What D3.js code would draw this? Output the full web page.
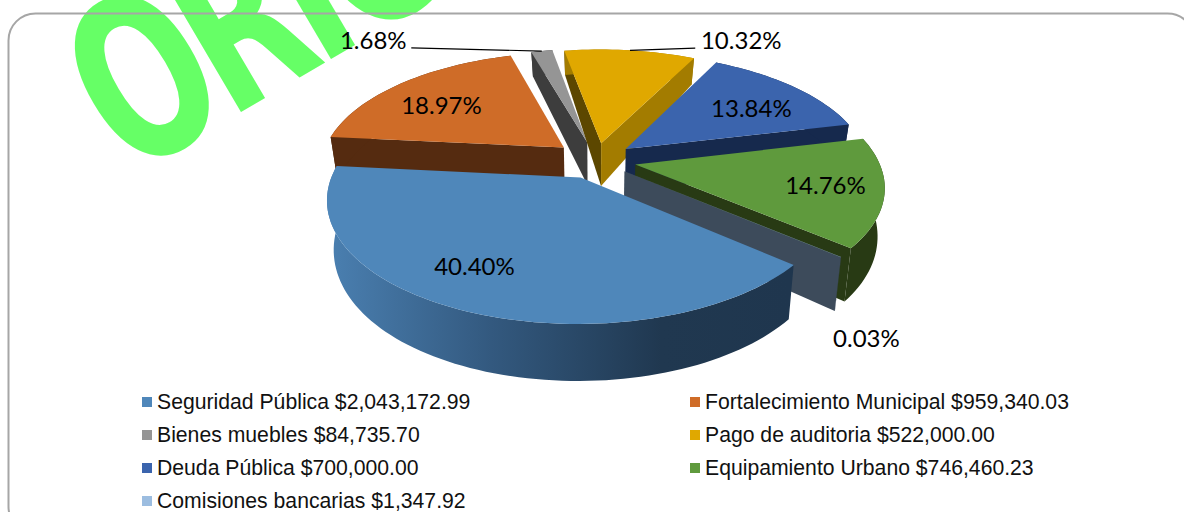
<!DOCTYPE html>
<html>
<head>
<meta charset="utf-8">
<script src="https://cdn.jsdelivr.net/npm/d3@7"></script>
<style>
  html, body { margin: 0; padding: 0; background: #fff; overflow: hidden; }
  svg { display: block; }
  .pct { font-family: Lato, "Open Sans", sans-serif; font-size: 24px; fill: #000; text-anchor: middle; }
  .leg { font-family: "Liberation Sans", Arial, sans-serif; font-size: 21.2px; fill: #111; }
  .mark { font-family: "DejaVu Sans", sans-serif; font-weight: bold; font-size: 225px; fill: #66ff66; letter-spacing: -15px; }
</style>
</head>
<body>
<div id="chart"></div>
<script>
// --- 1. DATA ---
const categories = ["Seguridad Pública", "Fortalecimiento Municipal", "Bienes muebles", "Pago de auditoria", "Deuda Pública", "Equipamiento Urbano", "Comisiones bancarias"];
const amounts = [2043172.99, 959340.03, 84735.70, 522000.00, 700000.00, 746460.23, 1347.92];
const topColors = ["#4f87ba", "#cf6c28", "#959595", "#e0a800", "#3b64ad", "#5f9a3d", "#9cbde0"];
const rimColors = ["#4f87ba", "#552b10", "#3d3d3d", "#a37c00", "#16294d", "#283a14", "#3d4b5b"];
const startFaceColors = [null, "#552b10", "#3d3d3d", "#5c4700", null, null, null];
const endFaceColors = [null, null, null, "#a37c00", "#16294d", "#283a14", "#3d4b5b"];
const paintOrder = [1, 2, 3, 4, 5, 6, 0];
const explodeBy = [0.16, 0.175, 0.16, 0.15, 0.158, 0.165, 0.15];

// label placement: radius factor on the slice bisector, angle shift in degrees
const labelRadius = [0.755, 0.685, 1.539, 1.311, 0.685, 0.77, 1.367];
const labelShift = [6.6, -3.9, -31.1, 24.1, 4.1, 0, 16];

// --- 2. GEOMETRY ---
const width = 1184, height = 512;
const cx = 596, cy = 160, rx = 243, ry = 115, persp = 0.17;
const firstAngle = 130 * Math.PI / 180;

const pie = d3.pie().sort(null).startAngle(firstAngle).endAngle(firstAngle + 2 * Math.PI);
const arcs = pie(amounts);
const total = d3.sum(amounts);
const color = d3.scaleOrdinal().domain(categories).range(topColors);
const pctFormat = d3.format(".2%");
const moneyFormat = d3.format("$,.2f");

// ground plane coords to screen, z=0 top face, z=1 bottom face
function project(u, v, z) {
    const s = 1 / (1 + persp * v);
    const drop = 45 - 14.5 * v - 3.5 * v * v;
    return [cx + rx * u * s * (1 - 0.025 * z), cy - ry * v * s + z * drop];
}
function slicePoint(d, angle, r, z) {
    const mid = (d.startAngle + d.endAngle) / 2;
    const u = explodeBy[d.index] * Math.sin(mid) + r * Math.sin(angle);
    const v = explodeBy[d.index] * Math.cos(mid) + r * Math.cos(angle);
    return project(u, v, z);
}
function rimPoints(d, z) {
    const n = Math.max(2, Math.ceil((d.endAngle - d.startAngle) / 0.03));
    return d3.range(n + 1).map(i => slicePoint(d, d.startAngle + (d.endAngle - d.startAngle) * i / n, 1, z));
}
const line = d3.line();

// --- 3. DRAWING ---
const svg = d3.select("#chart").append("svg").attr("width", width).attr("height", height);

const grad = svg.append("defs").append("linearGradient")
    .attr("id", "rimBlue").attr("gradientUnits", "userSpaceOnUse")
    .attr("x1", 330).attr("x2", 790).attr("y1", 0).attr("y2", 0);
grad.append("stop").attr("offset", "0").attr("stop-color", "#4a7fb0");
grad.append("stop").attr("offset", "0.35").attr("stop-color", "#33597f");
grad.append("stop").attr("offset", "0.72").attr("stop-color", "#203850");
grad.append("stop").attr("offset", "1").attr("stop-color", "#1f364e");

// watermark
svg.append("text").attr("class", "mark")
    .attr("transform", "translate(129,178) rotate(-30.5) scale(0.66,1)")
    .text("ORIGINAL");

// slices back to front
paintOrder.forEach(i => {
    const d = arcs[i];
    const g = svg.append("g").attr("class", "slice");

    if (startFaceColors[i]) {
        g.append("path").attr("fill", startFaceColors[i]).attr("d", line([
            slicePoint(d, d.startAngle, 0, 0), slicePoint(d, d.startAngle, 1, 0),
            slicePoint(d, d.startAngle, 1, 1), slicePoint(d, d.startAngle, 0, 1)]) + "Z");
    }
    if (endFaceColors[i]) {
        g.append("path").attr("fill", endFaceColors[i]).attr("d", line([
            slicePoint(d, d.endAngle, 0, 0), slicePoint(d, d.endAngle, 1, 0),
            slicePoint(d, d.endAngle, 1, 1), slicePoint(d, d.endAngle, 0, 1)]) + "Z");
    }
    // outer wall
    g.append("path")
        .attr("fill", i === 0 ? "url(#rimBlue)" : rimColors[i])
        .attr("d", line(rimPoints(d, 0).concat(rimPoints(d, 1).reverse())) + "Z");
    // top face
    g.append("path")
        .attr("fill", color(categories[i]))
        .attr("d", line([slicePoint(d, d.startAngle, 0, 0)].concat(rimPoints(d, 0))) + "Z");
});

// percentage labels
arcs.forEach((d, i) => {
    const mid = (d.startAngle + d.endAngle) / 2 + labelShift[i] * Math.PI / 180;
    const p = slicePoint(d, mid, labelRadius[i], 0);
    svg.append("text").attr("class", "pct")
        .attr("x", p[0]).attr("y", p[1] + 8)
        .text(pctFormat(d.value / total));
});

// leader lines for the two small outside labels
[2, 3].forEach(i => {
    const d = arcs[i];
    const mid = (d.startAngle + d.endAngle) / 2;
    const from = slicePoint(d, mid, 1, 0);
    const lab = slicePoint(d, mid + labelShift[i] * Math.PI / 180, labelRadius[i], 0);
    const to = [lab[0] + (i === 2 ? 38 : -46), lab[1] + 7];
    svg.append("path").attr("fill", "none").attr("stroke", "#000").attr("stroke-width", 1.2)
        .attr("d", line([from, to]));
});

// legend
const legendRow = d3.scalePoint().domain([0, 1, 2, 3]).range([402, 501]);
const legendCol = d3.scalePoint().domain([0, 1]).range([142, 690]);
categories.forEach((name, i) => {
    const col = i % 2, row = Math.floor(i / 2);
    const g = svg.append("g").attr("transform", `translate(${legendCol(col)},${legendRow(row)})`);
    g.append("rect").attr("x", 0).attr("y", -5).attr("width", 10).attr("height", 10).attr("fill", color(name));
    g.append("text").attr("class", "leg").attr("x", 15).attr("y", 7).text(`${name} ${moneyFormat(amounts[i])}`);
});

// rounded frame
svg.append("rect").attr("x", 8.5).attr("y", 13.5).attr("width", 1186).attr("height", 520).attr("rx", 27)
    .attr("fill", "none").attr("stroke", "#a6a6a6").attr("stroke-width", 2);
</script>
</body>
</html>
